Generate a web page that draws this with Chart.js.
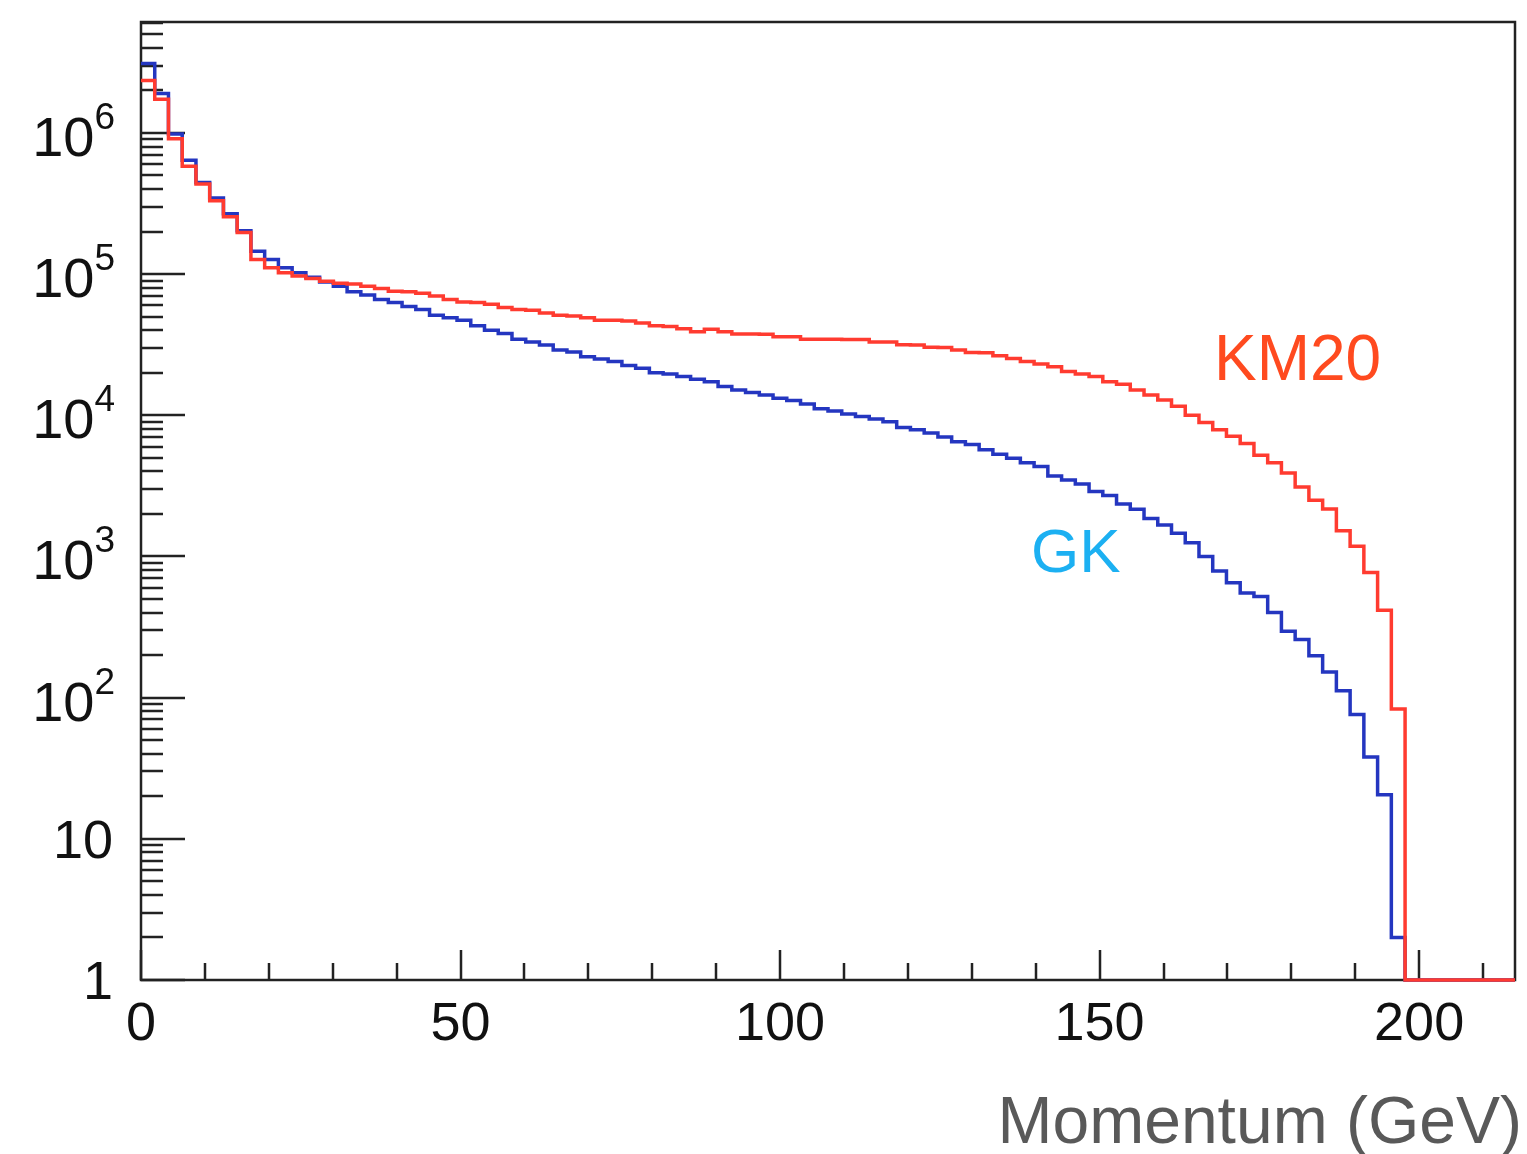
<!DOCTYPE html>
<html lang="en">
<head>
  <meta charset="UTF-8" />
  <title>Momentum spectrum: GK vs KM20</title>
  <script src="https://cdn.jsdelivr.net/npm/chart.js"></script>
  <style>
    html, body { margin: 0; padding: 0; background: #fff; }
    #wrap { width: 1527px; height: 1154px; position: relative; }
  </style>
</head>
<body>
<div id="wrap"><canvas id="momentumChart"></canvas></div>
<script>
  // histogram binning: 100 bins from 0 to 215 GeV
  const BIN_WIDTH = 2.15;
  const X_MIN = 0, X_MAX = 215;
  const Y_MIN = 1, Y_MAX = 6.1e6;

  // counts per bin
  const gkCounts = [
    3.1e6, 1.9e6, 9.8e5, 6.4e5, 4.45e5, 3.46e5, 2.67e5, 2.03e5, 1.45e5, 1.27e5,
    1.11e5, 1.02e5, 9.5e4, 8.8e4, 8.2e4, 7.5e4, 7.1e4, 6.6e4, 6.3e4, 5.9e4,
    5.6e4, 5.1e4, 4.9e4, 4.7e4, 4.3e4, 4.0e4, 3.8e4, 3.45e4, 3.3e4, 3.15e4,
    2.9e4, 2.8e4, 2.6e4, 2.5e4, 2.4e4, 2.25e4, 2.15e4, 2.0e4, 1.96e4, 1.88e4,
    1.8e4, 1.73e4, 1.6e4, 1.51e4, 1.45e4, 1.39e4, 1.32e4, 1.27e4, 1.2e4, 1.11e4,
    1.07e4, 1.02e4, 9.8e3, 9.4e3, 9.0e3, 8.2e3, 7.9e3, 7.5e3, 7.0e3, 6.5e3,
    6.2e3, 5.7e3, 5.3e3, 4.96e3, 4.6e3, 4.33e3, 3.72e3, 3.48e3, 3.26e3, 2.88e3,
    2.7e3, 2.35e3, 2.16e3, 1.86e3, 1.67e3, 1.46e3, 1.25e3, 1.0e3, 790, 650,
    550, 520, 400, 295, 258, 198, 152, 112, 76, 38,
    20.5, 2, 0, 0, 0, 0, 0, 0, 0, 0
  ];
  const km20Counts = [
    2.35e6, 1.73e6, 9.1e5, 5.8e5, 4.35e5, 3.3e5, 2.55e5, 1.97e5, 1.27e5, 1.11e5,
    1.02e5, 9.7e4, 9.3e4, 8.9e4, 8.6e4, 8.5e4, 8.2e4, 7.9e4, 7.55e4, 7.5e4,
    7.3e4, 7.0e4, 6.6e4, 6.35e4, 6.3e4, 6.1e4, 5.8e4, 5.6e4, 5.55e4, 5.3e4,
    5.1e4, 5.05e4, 4.9e4, 4.7e4, 4.7e4, 4.65e4, 4.5e4, 4.3e4, 4.25e4, 4.1e4,
    3.9e4, 4.07e4, 3.9e4, 3.77e4, 3.77e4, 3.75e4, 3.6e4, 3.6e4, 3.45e4, 3.45e4,
    3.45e4, 3.44e4, 3.44e4, 3.3e4, 3.3e4, 3.16e4, 3.15e4, 3.03e4, 3.02e4, 2.9e4,
    2.78e4, 2.77e4, 2.64e4, 2.52e4, 2.4e4, 2.31e4, 2.21e4, 2.04e4, 1.96e4, 1.88e4,
    1.73e4, 1.66e4, 1.51e4, 1.39e4, 1.28e4, 1.16e4, 1.0e4, 8.9e3, 7.9e3, 7.1e3,
    6.3e3, 5.2e3, 4.6e3, 3.9e3, 3.1e3, 2.5e3, 2.17e3, 1.52e3, 1.18e3, 770,
    415, 83, 0, 0, 0, 0, 0, 0, 0, 0
  ];

  const xTickLabels = [0, 50, 100, 150, 200];
  const X_MINOR_STEP = 10;
  const yDecades = [0, 1, 2, 3, 4, 5, 6];

  // bin edges -> points for a step line; empty bins sit on the axis floor
  function toSteps(counts) {
    const pts = counts.map((c, i) => ({ x: i * BIN_WIDTH, y: c > 0 ? c : Y_MIN }));
    pts.push({ x: counts.length * BIN_WIDTH, y: pts[pts.length - 1].y });
    return pts;
  }

  const FONT = '"Liberation Sans", Arial, Helvetica, sans-serif';

  const framePlugin = {
    id: 'rootFrame',
    beforeDatasetsDraw(chart) {
      const { ctx, chartArea: a, scales: { x, y } } = chart;
      ctx.save();
      ctx.strokeStyle = '#222';
      ctx.lineWidth = 2.5;
      ctx.strokeRect(a.left, a.top, a.right - a.left, a.bottom - a.top);

      // x ticks pointing up into the frame
      ctx.beginPath();
      for (let v = X_MIN; v <= X_MAX; v += X_MINOR_STEP) {
        const px = Math.round(x.getPixelForValue(v));
        const len = v % 50 === 0 ? 30 : 17;
        ctx.moveTo(px, a.bottom);
        ctx.lineTo(px, a.bottom - len);
      }
      // y ticks pointing right
      for (const d of yDecades) {
        for (let m = 1; m <= 9; m++) {
          const v = m * Math.pow(10, d);
          if (v > Y_MAX) break;
          const py = Math.round(y.getPixelForValue(v));
          const len = m === 1 ? 44 : 22;
          ctx.moveTo(a.left, py);
          ctx.lineTo(a.left + len, py);
        }
      }
      ctx.stroke();
      ctx.restore();
    },
    afterDraw(chart) {
      const { ctx, chartArea: a, scales: { x, y } } = chart;
      ctx.save();
      ctx.fillStyle = '#111';

      // x tick labels
      ctx.font = '54px ' + FONT;
      ctx.textAlign = 'center';
      ctx.textBaseline = 'alphabetic';
      xTickLabels.forEach(v => {
        ctx.fillText(String(v), x.getPixelForValue(v), 1040);
      });

      // y tick labels: 1, 10, 10^2 ...
      const right = 115;
      yDecades.forEach(d => {
        const py = y.getPixelForValue(Math.pow(10, d));
        ctx.textAlign = 'left';
        if (d < 2) {
          const txt = d === 0 ? '1' : '10';
          ctx.font = '54px ' + FONT;
          const w = ctx.measureText(txt).width;
          ctx.fillText(txt, right - 2 - w, py + 19);
        } else {
          ctx.font = '56px ' + FONT;
          const wBase = ctx.measureText('10').width;
          ctx.font = '37px ' + FONT;
          const wExp = ctx.measureText(String(d)).width;
          const x0 = right - wBase - wExp;
          ctx.font = '56px ' + FONT;
          ctx.fillText('10', x0, py + 23);
          ctx.font = '37px ' + FONT;
          ctx.fillText(String(d), x0 + wBase, py - 4);
        }
      });

      // axis title
      ctx.font = '66px ' + FONT;
      ctx.fillStyle = '#595959';
      ctx.textAlign = 'right';
      ctx.fillText('Momentum (GeV)', 1522, 1143);

      // series labels
      ctx.textAlign = 'left';
      ctx.font = '64px ' + FONT;
      ctx.fillStyle = '#ff4a1f';
      ctx.fillText('KM20', 1214, 380);
      ctx.font = '62px ' + FONT;
      ctx.fillStyle = '#1cb0f2';
      ctx.fillText('GK', 1031, 572);
      ctx.restore();
    }
  };

  new Chart(document.getElementById('momentumChart').getContext('2d'), {
    type: 'line',
    data: {
      datasets: [
        {
          label: 'KM20',
          data: toSteps(km20Counts),
          borderColor: '#ff3b30',
          borderWidth: 3.5,
          stepped: 'before',
          pointRadius: 0,
          fill: false,
          order: 0,
          clip: 4
        },
        {
          label: 'GK',
          data: toSteps(gkCounts),
          borderColor: '#2436c0',
          borderWidth: 3.5,
          stepped: 'before',
          pointRadius: 0,
          fill: false,
          order: 1,
          clip: 4
        }
      ]
    },
    options: {
      responsive: true,
      maintainAspectRatio: false,
      animation: false,
      layout: { padding: { left: 141, right: 12, top: 22, bottom: 174 } },
      plugins: { legend: { display: false }, tooltip: { enabled: false } },
      scales: {
        x: { type: 'linear', min: X_MIN, max: X_MAX, display: false },
        y: { type: 'logarithmic', min: Y_MIN, max: Y_MAX, display: false }
      }
    },
    plugins: [framePlugin]
  });
</script>
</body>
</html>
